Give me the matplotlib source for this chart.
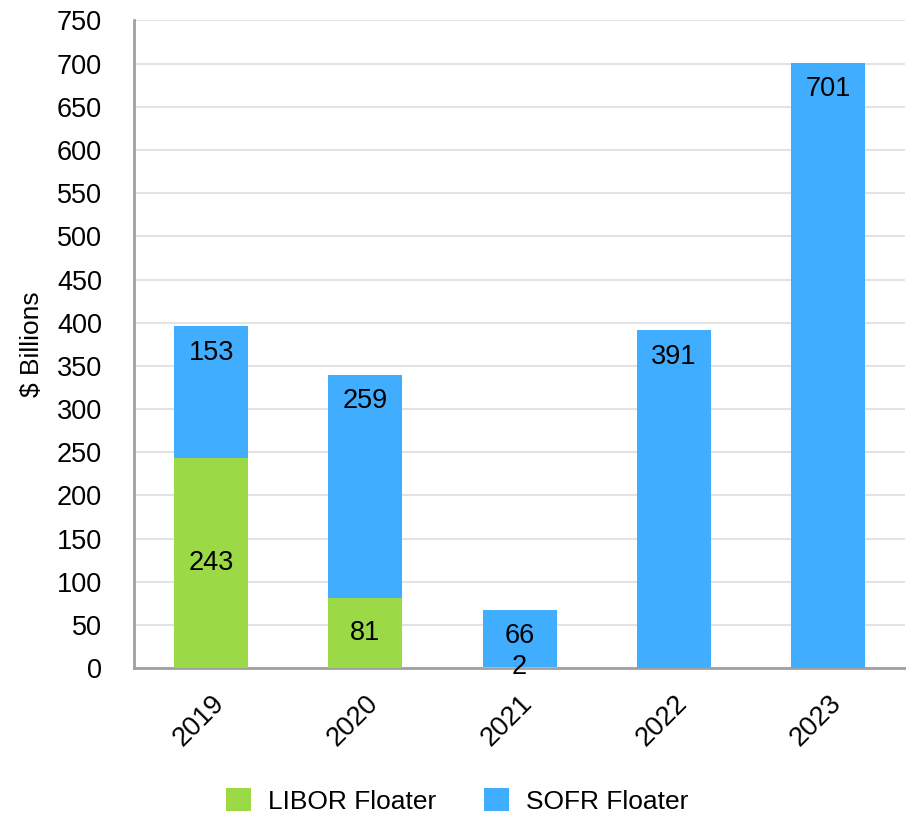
import matplotlib
matplotlib.use('Agg')
import matplotlib.pyplot as plt
import numpy as np

years = ['2019', '2020', '2021', '2022', '2023']
libor = [243, 81, 2, 0, 0]
sofr = [153, 259, 66, 391, 701]

green = '#9cd947'
blue = '#40adff'

plt.rcParams['font.family'] = ['Liberation Sans', 'DejaVu Sans']

fig = plt.figure(figsize=(9.06, 8.13), dpi=100, facecolor='white')
ax = fig.add_axes([0.148, 0.178, 0.851, 0.797])

x = np.arange(len(years))
w = 0.48
ax.bar(x, libor, w, color=green, label='LIBOR Floater', zorder=3)
ax.bar(x, sofr, w, bottom=libor, color=blue, label='SOFR Floater', zorder=3)

# value labels
for i in range(len(years)):
    if libor[i] > 0:
        ax.text(x[i], libor[i] / 2, str(libor[i]), ha='center', va='center', fontsize=19.5, zorder=4)
    ax.annotate(str(sofr[i]), (x[i], libor[i] + sofr[i]), xytext=(0, -19),
                textcoords='offset points', ha='center', va='center', fontsize=19.5, zorder=4)

ax.set_xlim(-0.5, len(years) - 0.5)
ax.set_ylim(0, 750)
ax.set_yticks(np.arange(0, 751, 50))
ax.set_xticks(x)
ax.set_xticklabels(years, rotation=45, ha='right', va='top', rotation_mode='anchor')
ax.tick_params(axis='both', labelsize=19.5, length=0)
ax.tick_params(axis='y', pad=23)
ax.tick_params(axis='x', pad=16)
ax.set_ylabel('$ Billions', fontsize=19, labelpad=9)

ax.grid(True, axis='y', color='#e3e3e3', linewidth=1.5, zorder=0)
ax.set_axisbelow(True)
for s in ['top', 'right']:
    ax.spines[s].set_visible(False)
for s in ['left', 'bottom']:
    ax.spines[s].set_color('#a0a0a0')
    ax.spines[s].set_linewidth(2)

fig.legend(loc='lower center', bbox_to_anchor=(0.505, -0.03), ncol=2, frameon=False,
           fontsize=19, handlelength=0.95, handleheight=0.95, handletextpad=0.65,
           columnspacing=1.8)

fig.savefig('out.png', dpi=100, facecolor='white')
